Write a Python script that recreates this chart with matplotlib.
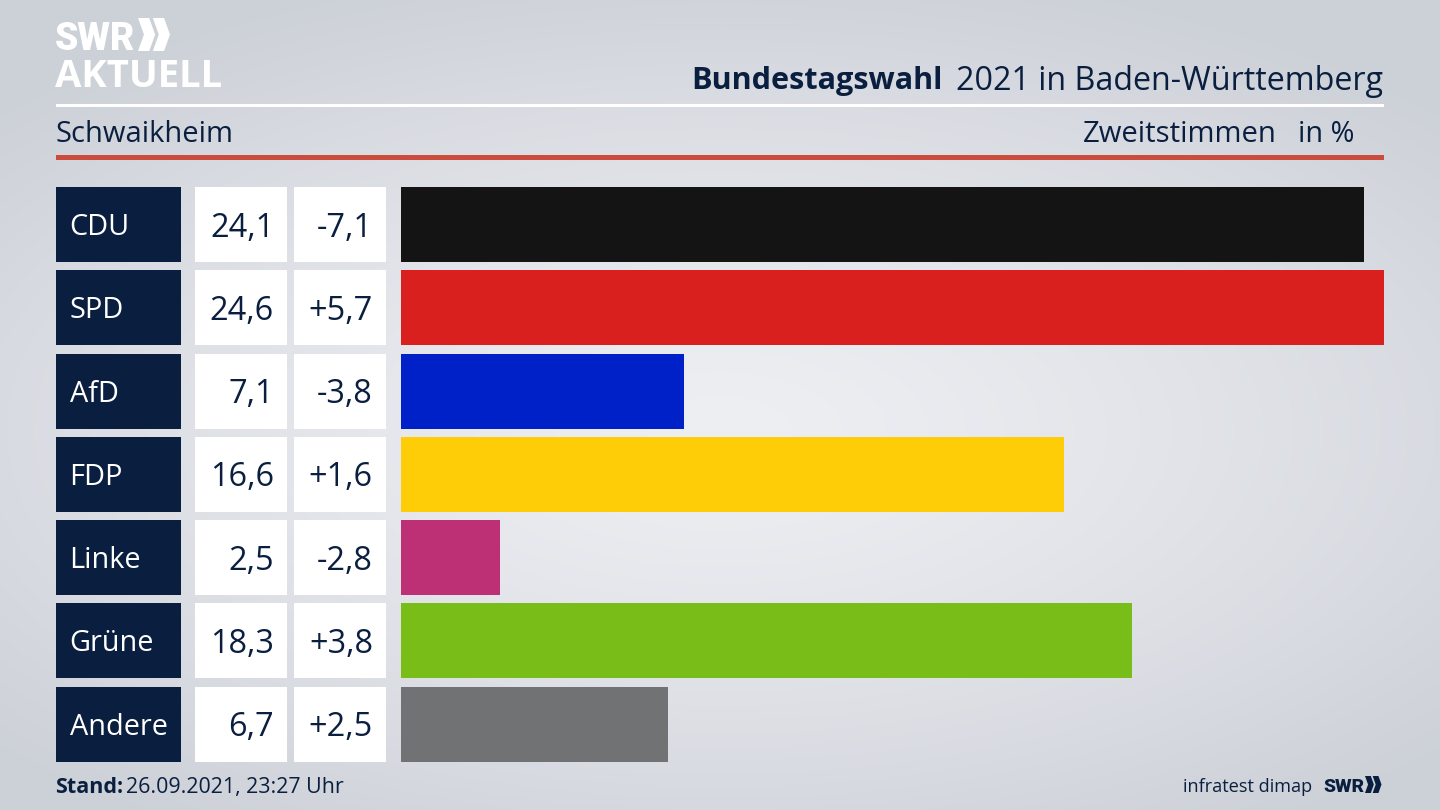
import numpy as np
import matplotlib
matplotlib.use("Agg")
import matplotlib.pyplot as plt
from matplotlib.patches import Rectangle, Polygon

# ==================== DATA ====================

parties = ["CDU", "SPD", "AfD", "FDP", "Linke", "Grüne", "Andere"]
shares = [24.1, 24.6, 7.1, 16.6, 2.5, 18.3, 6.7]
diffs = [-7.1, 5.7, -3.8, 1.6, -2.8, 3.8, 2.5]
colors = ["#141414", "#d9201f", "#0021c8", "#ffcc08", "#bd3075", "#79bd19", "#717274"]

title_bold = "Bundestagswahl"
title_rest = "2021 in Baden-Württemberg"
place = "Schwaikheim"
vote_type = "Zweitstimmen"
unit = "in %"
stand_label = "Stand:"
stand_value = "26.09.2021, 23:27 Uhr"
source = "infratest dimap"

NAVY = "#0a1f3f"
W, H = 1440, 810

plt.rcParams["font.family"] = ["Open Sans", "DejaVu Sans"]


def de_number(value, signed=False):
    """ Formats a number with a german decimal comma. """
    text = f"{value:+.1f}" if signed else f"{value:.1f}"
    return text.replace(".", ",")


def chevrons(ax, x, y, h, color):
    """ Draws the double arrow of the SWR logo, x/y is the top left corner. """
    w = h * 0.52
    t = h * 0.34
    for dx in (0, h * 0.45):
        pts = [(x + dx, y), (x + dx + t, y), (x + dx + w, y + h / 2),
               (x + dx + t, y + h), (x + dx, y + h), (x + dx + w - t, y + h / 2)]
        ax.add_patch(Polygon(pts, closed=True, color=color, lw=0))


fig = plt.figure(figsize=(14.4, 8.1), dpi=100)

# ==================== BACKGROUND AND LAYOUT ====================

page = fig.add_axes([0, 0, 1, 1])
page.set_xlim(0, W)
page.set_ylim(H, 0)
page.axis("off")

yy, xx = np.mgrid[0:H:2, 0:W:2]
dist = np.sqrt(((xx - 720) / 1000) ** 2 + ((yy - 430) / 480) ** 2)
shade = np.clip(dist, 0, 1)
top = np.array([0xcc, 0xd0, 0xd7]) / 255
mid = np.array([0xee, 0xef, 0xf3]) / 255
bg = mid + (top - mid) * shade[..., None] ** 1.3
page.imshow(bg, extent=(0, W, H, 0), aspect="auto", zorder=0)

page.add_patch(Rectangle((56, 104), 1328, 3, color="white", lw=0))
page.add_patch(Rectangle((56, 155), 1328, 5, color="#cb4b3c", lw=0))

# logo
page.text(55, 50, "SWR", fontsize=27, fontweight="black", family="Roboto", color="white", va="baseline")
chevrons(page, 138, 18, 33, "white")
page.text(55, 87, "AKTUELL", fontsize=27.5, fontweight="bold", color="white", va="baseline")

# header
page.text(691.5, 89.5, title_bold, fontsize=22.1, fontweight="bold", color=NAVY, va="baseline")
page.text(1383, 89.5, title_rest, fontsize=23.2, color=NAVY, va="baseline", ha="right")
page.text(55.5, 142, place, fontsize=21, color=NAVY, va="baseline")
page.text(1277, 142, vote_type, fontsize=21.1, color=NAVY, va="baseline", ha="right")
page.text(1355, 142, unit, fontsize=20.8, color=NAVY, va="baseline", ha="right")

# footer
page.text(55.5, 793, stand_label, fontsize=15.5, fontweight="bold", color=NAVY, va="baseline")
page.text(126, 793, stand_value, fontsize=15.4, color=NAVY, va="baseline")
page.text(1312, 791.5, source, fontsize=13.1, color=NAVY, va="baseline", ha="right")
page.text(1323.5, 791.5, "SWR", fontsize=13.8, fontweight="black", family="Roboto", color=NAVY, va="baseline")
chevrons(page, 1365, 776, 17, NAVY)

# ==================== TABLE AND BARS ====================

row_pitch = 83.25
row_h = 75
y_start = 187.2
x_px0, x_px1 = 400.5, 1384
y_px0, y_px1 = y_start, y_start + 6 * row_pitch + row_h
pad = (row_pitch - row_h) / row_pitch / 2

ax = fig.add_axes([x_px0 / W, 1 - y_px1 / H, (x_px1 - x_px0) / W, (y_px1 - y_px0) / H])
ax.patch.set_alpha(0)
y_pos = np.arange(len(parties))
ax.barh(y_pos, shares, height=row_h / row_pitch, color=colors, lw=0)
ax.set_xlim(0, max(shares))
ax.set_ylim(len(parties) - 0.5 - pad, -0.5 + pad)
ax.axis("off")

for i, party in enumerate(parties):
    y = y_start + i * row_pitch
    yc = y + row_h / 2
    page.add_patch(Rectangle((56, y), 125, row_h, color=NAVY, lw=0))
    page.add_patch(Rectangle((195, y), 92, row_h, color="white", lw=0))
    page.add_patch(Rectangle((294, y), 92, row_h, color="white", lw=0))
    page.text(69.5, yc + 10.5, party, fontsize=20.8, color="white", va="baseline")
    page.text(274, yc + 12, de_number(shares[i]), fontsize=23.4, color=NAVY, va="baseline", ha="right")
    page.text(373, yc + 12, de_number(diffs[i], signed=True), fontsize=23.4, color=NAVY, va="baseline", ha="right")

fig.savefig("out.png", dpi=100)
